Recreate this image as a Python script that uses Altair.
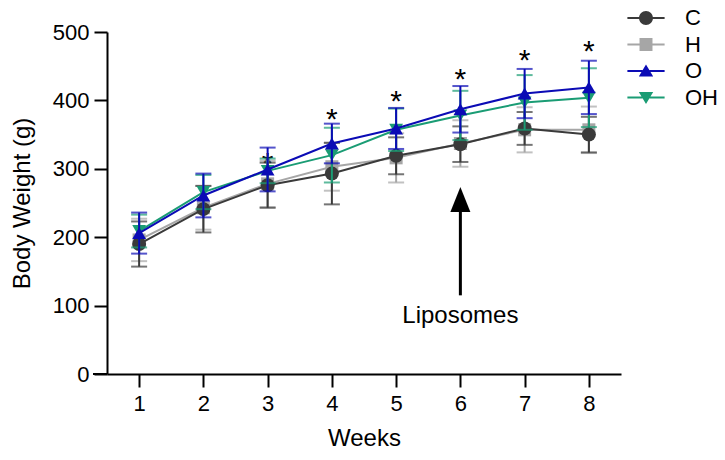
import altair as alt
import pandas as pd

# ---------------- data ----------------
weeks = [1, 2, 3, 4, 5, 6, 7, 8]
series = ["C", "H", "O", "OH"]
C_mean = [190, 241, 276, 293, 319, 336, 359, 350]
C_sd = [33, 34, 33, 45, 27, 26, 24, 26]
H_mean = [196, 243, 278, 303, 316, 337, 357, 357]
H_sd = [31, 32, 34, 35, 36, 34, 33, 34]
O_mean = [206, 261, 299, 337, 359, 387, 410, 419]
O_sd = [30, 32, 32, 29, 30, 34, 36, 39]
OH_mean = [209, 266, 297, 320, 357, 378, 397, 404]
OH_sd = [24, 25, 18, 40, 31, 36, 40, 43]

star_weeks = [3, 4, 5, 6, 7, 8]
star_y = [318, 383, 410, 442, 470, 483]

arrow_week = [6]
arrow_from = [115]
arrow_to = [245]
arrow_head = [255]
label_y = [75]
label_text = ["Liposomes"]

# ---------------- styles ----------------
colors = ["#3a3a3a", "#a6a6a6", "#0b0bb5", "#1a9c74"]
shapes = ["circle", "square", "triangle-up", "triangle-down"]
sizes = [196, 169, 190, 190]
seg = "M-1.55,-0.08 L-0.3,-0.08 L-0.3,0.08 L-1.55,0.08 Z M0.3,-0.08 L1.55,-0.08 L1.55,0.08 L0.3,0.08 Z "
legend_paths = [
    seg + "M-0.58,0 A0.58,0.58 0 1,1 0.58,0 A0.58,0.58 0 1,1 -0.58,0 Z",
    seg + "M-0.54,-0.54 L0.54,-0.54 L0.54,0.54 L-0.54,0.54 Z",
    seg + "M0,-0.55 L0.6,0.45 L-0.6,0.45 Z",
    seg + "M-0.6,-0.45 L0.6,-0.45 L0,0.55 Z",
]
arrowhead_path = "M0,-1.25 L1,1.25 L-1,1.25 Z"
FONT = "Liberation Sans"

means = {"C": C_mean, "H": H_mean, "O": O_mean, "OH": OH_mean}
sds = {"C": C_sd, "H": H_sd, "O": O_sd, "OH": OH_sd}
rows = []
for s in series:
    for w, m, sd in zip(weeks, means[s], sds[s]):
        rows.append({"series": s, "week": w, "mean": m, "lo": m - sd, "hi": m + sd})
df = pd.DataFrame(rows)

stars = pd.DataFrame({"week": star_weeks, "y": star_y, "t": ["*"] * len(star_weeks)})
arrow = pd.DataFrame({"week": arrow_week, "y0": arrow_from, "y1": arrow_to,
                      "yh": arrow_head, "ly": label_y, "label": label_text})

xs = alt.Scale(domain=[0.5, 8.5], nice=False, zero=False)
ys = alt.Scale(domain=[0, 500], nice=False)
cs = alt.Scale(domain=series, range=colors)

xaxis = alt.Axis(values=weeks, format="d", title="Weeks", grid=False,
                 tickSize=13, tickWidth=2, domainWidth=2, labelPadding=6,
                 titlePadding=12, labelFontSize=22, titleFontSize=24)
yaxis = alt.Axis(values=[0, 100, 200, 300, 400, 500], title="Body Weight (g)", grid=False,
                 tickSize=13, tickWidth=2, domainWidth=2, labelPadding=5,
                 titlePadding=18, labelFontSize=22, titleFontSize=24)

X = alt.X("week:Q", scale=xs, axis=xaxis)

layers = []

# stars (behind data)
layers.append(
    alt.Chart(stars).mark_text(fontSize=30, baseline="alphabetic", dy=17, color="black", font=FONT)
    .encode(x=X, y=alt.Y("y:Q", scale=ys, axis=yaxis), text="t:N")
)

draw_order = ["H", "C", "OH", "O"]
for s in draw_order:
    i = series.index(s)
    c = colors[i]
    b = alt.Chart(df).transform_filter(alt.datum.series == s)
    layers.append(b.mark_rule(strokeWidth=2, color=c).encode(
        x=X, y=alt.Y("lo:Q", scale=ys, axis=yaxis), y2="hi:Q"))
    layers.append(b.mark_tick(orient="horizontal", size=16, thickness=2, color=c).encode(
        x=X, y=alt.Y("lo:Q", scale=ys, axis=yaxis)))
    layers.append(b.mark_tick(orient="horizontal", size=16, thickness=2, color=c).encode(
        x=X, y=alt.Y("hi:Q", scale=ys, axis=yaxis)))
    layers.append(b.mark_line(strokeWidth=2, color=c).encode(
        x=X, y=alt.Y("mean:Q", scale=ys, axis=yaxis)))
    layers.append(b.mark_point(filled=True, opacity=1, shape=shapes[i], size=sizes[i], color=c).encode(
        x=X, y=alt.Y("mean:Q", scale=ys, axis=yaxis)))

# legend driver (invisible marks, visible legend)
leg = dict(orient="none", legendX=527, legendY=-26, direction="vertical", title=None,
           labelFontSize=22, labelFont=FONT, labelColor="black", labelOffset=27,
           symbolSize=576, symbolStrokeWidth=0, symbolOpacity=1, rowPadding=3.5, padding=0)
layers.append(
    alt.Chart(df).mark_point(filled=True, opacity=0, size=576).encode(
        x=X, y=alt.Y("mean:Q", scale=ys, axis=yaxis),
        color=alt.Color("series:N", scale=cs, legend=alt.Legend(**leg)),
        shape=alt.Shape("series:N", scale=alt.Scale(domain=series, range=legend_paths),
                        legend=alt.Legend(**leg)))
)

# arrow + annotation
a = alt.Chart(arrow)
layers.append(a.mark_rule(strokeWidth=3, color="black").encode(
    x=X, y=alt.Y("y0:Q", scale=ys, axis=yaxis), y2="y1:Q"))
layers.append(a.mark_point(shape=arrowhead_path, filled=True, size=400, color="black", opacity=1).encode(
    x=X, y=alt.Y("yh:Q", scale=ys, axis=yaxis)))
layers.append(a.mark_text(fontSize=24, baseline="alphabetic", color="black", font=FONT).encode(
    x=X, y=alt.Y("ly:Q", scale=ys, axis=yaxis), text="label:N"))

# x-axis line extension to the left of the y axis
layers.append(alt.Chart(arrow).mark_rule(strokeWidth=2, color="black").encode(
    x=alt.value(-14), x2=alt.value(0), y=alt.value(342)))

chart = (
    alt.layer(*layers)
    .properties(width=514, height=342,
                autosize=alt.AutoSizeParams(type="none"),
                padding={"left": 99, "top": 24, "right": 96, "bottom": 76})
    .configure_view(stroke=None)
    .configure_axis(labelFont=FONT, titleFont=FONT, labelColor="black", titleColor="black",
                    domainColor="black", tickColor="black", titleFontWeight="normal")
    .configure_text(font=FONT)
)

chart.save("out.html", embed_options={"renderer": "svg", "actions": False})
